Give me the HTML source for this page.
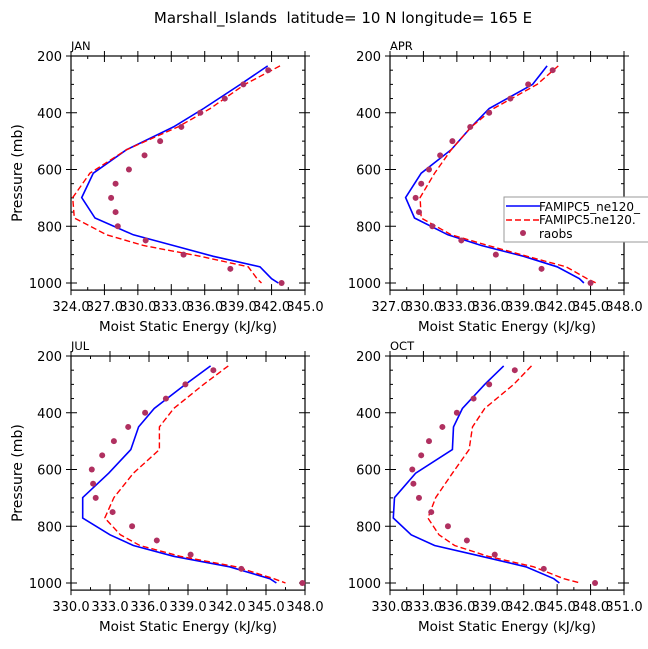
<!DOCTYPE html>
<html><head><meta charset="utf-8">
<style>
html,body{margin:0;padding:0;background:#fff;}
svg{display:block;font-family:"DejaVu Sans","Liberation Sans",sans-serif;}
</style></head>
<body>
<svg id="chart" width="648" height="649" viewBox="0 0 648 649">
<text x="343" y="23" text-anchor="middle" font-size="15" fill="#000" style="white-space:pre" xml:space="preserve">Marshall_Islands  latitude= 10 N longitude= 165 E</text>
</svg>
<script>
// shared pressure levels (mb)
const levels = [235,300,385,450,530,613,699,771,830,868,906,943,985,1000];
const obsLevels = [250,300,350,400,450,500,550,600,650,700,750,800,850,900,950,1000];
const months = ["JAN","APR","JUL","OCT"];
const xMins = [324,327,330,330];
const xMaxs = [345,348,348,351];
const yTicks = [200,400,600,800,1000];
// model 1 (blue solid)
const janBlue = [341.65,339.2,335.9,333.2,329.0,326.0,324.96,326.15,329.59,333.18,336.77,340.96,342.0,342.6];
const aprBlue = [341.1,339.8,335.9,334.3,332.5,329.8,328.4,329.2,332.2,335.2,339.0,342.0,344.0,344.4];
const julBlue = [340.74,338.8,336.4,335.2,334.6,332.9,330.9,330.9,333.0,334.8,337.9,342.2,345.3,345.8];
const octBlue = [340.2,338.5,336.5,335.7,335.6,332.3,330.4,330.3,331.9,334.0,338.2,342.2,344.7,345.2];
// model 2 (red dashed)
const janRed = [342.76,339.6,336.5,333.6,329.0,325.7,324.15,324.3,327.2,330.5,335.6,339.9,340.7,341.1];
const aprRed = [342.1,340.2,336.3,334.3,332.5,331.0,329.7,329.8,332.5,335.8,339.3,342.8,344.7,345.5];
const julRed = [342.1,340.2,337.9,336.8,336.8,334.8,333.3,332.6,333.8,335.3,338.4,342.7,345.6,346.5];
const octRed = [342.7,341.1,338.5,337.4,337.1,335.6,334.1,333.4,334.4,335.8,338.8,342.9,345.6,347.1];
// raobs
const janObs = [341.7,339.47,337.8,335.6,333.9,332.0,330.6,329.2,328.0,327.6,328.0,328.2,330.7,334.1,338.3,342.9];
const aprObs = [341.6,339.4,337.8,335.9,334.2,332.6,331.5,330.5,329.8,329.3,329.6,330.8,333.4,336.5,340.6,345.0];
const julObs = [340.95,338.8,337.3,335.7,334.4,333.3,332.4,331.6,331.7,331.9,333.2,334.7,336.6,339.2,343.1,347.8];
const octObs = [341.2,338.9,337.5,336.0,334.7,333.5,332.8,332.0,332.1,332.6,333.7,335.2,336.9,339.4,343.8,348.4];

const blues=[janBlue,aprBlue,julBlue,octBlue];
const reds=[janRed,aprRed,julRed,octRed];
const obs=[janObs,aprObs,julObs,octObs];

const NS="http://www.w3.org/2000/svg";
const svg=document.getElementById('chart');
function mk(tag,attrs,parent){const e=document.createElementNS(NS,tag);for(const k in attrs)e.setAttribute(k,attrs[k]);(parent||svg).appendChild(e);return e;}

const boxes=[{x:71,y:56},{x:390,y:56},{x:71,y:356},{x:390,y:356}];
const W=234;
months.forEach((m,i)=>{
  const bx=boxes[i].x, by=boxes[i].y;
  const yS=p=>by+(p-200)*227/800;
  const xS=v=>bx+(v-xMins[i])*W/(xMaxs[i]-xMins[i]);
  const bottom=yS(1025);
  const g=mk('g',{});
  
  
  const clipId='clip'+i;
  const cp=mk('clipPath',{id:clipId},g);
  mk('rect',{x:bx,y:by,width:W,height:bottom-by},cp);
  const ml=mk('text',{x:bx,y:by-6,'font-size':11.5},g);ml.textContent=m;
  
  
  for(let p=200;p<=1000;p+=50){
    const y=yS(p), major=p%200===0, len=major?6:3;
    mk('line',{x1:bx,x2:bx+len,y1:y,y2:y,stroke:'#000','stroke-width':1},g);
    mk('line',{x1:bx+W,x2:bx+W-len,y1:y,y2:y,stroke:'#000','stroke-width':1},g);
    if(major){mk('line',{x1:bx-5,x2:bx,y1:y,y2:y,stroke:'#000'},g);mk('line',{x1:bx+W,x2:bx+W+5,y1:y,y2:y,stroke:'#000'},g);}
  }
  yTicks.forEach(p=>{
    const t=mk('text',{x:bx-9,y:yS(p)+5,'font-size':13,'text-anchor':'end'},g);t.textContent=p;
    
    
  });
  for(let v=xMins[i];v<=xMaxs[i]+0.01;v+=1.5){
    const x=xS(v), major=Math.abs((v-xMins[i])%3)<0.01, len=major?6:3;
    mk('line',{x1:x,x2:x,y1:bottom,y2:bottom-len,stroke:'#000'},g);
    mk('line',{x1:x,x2:x,y1:by,y2:by+len,stroke:'#000'},g);
    if(major){
      mk('line',{x1:x,x2:x,y1:bottom,y2:bottom+5,stroke:'#000'},g);
      mk('line',{x1:x,x2:x,y1:by,y2:by-5,stroke:'#000'},g);
      const t=mk('text',{x:x,y:bottom+21,'font-size':13,'text-anchor':'middle'},g);t.textContent=v.toFixed(1);
      
      
    }
  }
  mk('rect',{x:bx,y:by,width:W,height:bottom-by,fill:'none',stroke:'#000','stroke-width':1.2},g);
  const xt=mk('text',{x:bx+W/2,y:bottom+41,'font-size':13.5,'text-anchor':'middle'},g);xt.textContent='Moist Static Energy (kJ/kg)';
  
  
  if(i%2===0){
    const yt=mk('text',{x:0,y:0,'font-size':14,'text-anchor':'middle',transform:`translate(22,${(by+bottom)/2}) rotate(-90)`},g);yt.textContent='Pressure (mb)';
    
    
  }
  const pg=mk('g',{'clip-path':`url(#${clipId})`},g);
  const pts=a=>a.map((v,k)=>xS(v).toFixed(1)+','+yS(levels[k]).toFixed(1)).join(' ');
  const bl=mk('polyline',{points:pts(blues[i]),fill:'none',stroke:'#0000ff','stroke-width':1.6},pg);
  
  
  const rl=mk('polyline',{points:pts(reds[i]),fill:'none',stroke:'#ff0000','stroke-width':1.4,'stroke-dasharray':'6,3'},pg);
  
  
  obs[i].forEach((v,k)=>{
    const c=mk('circle',{cx:xS(v),cy:yS(obsLevels[k]),r:3,fill:'#b03060'},g);
    
    
  });
});
const lg=mk('g',{});


mk('rect',{x:504,y:197,width:150,height:45,fill:'#fff',stroke:'#999','stroke-width':1},lg);
const e1=mk('g',{},lg);


mk('line',{x1:506,x2:540,y1:206,y2:206,stroke:'#0000ff','stroke-width':1.6},e1);
mk('text',{x:539,y:211,'font-size':12},e1).textContent='FAMIPC5_ne120_';
const e2=mk('g',{},lg);


mk('line',{x1:506,x2:540,y1:220,y2:220,stroke:'#ff0000','stroke-width':1.4,'stroke-dasharray':'6,3'},e2);
mk('text',{x:539,y:224,'font-size':12},e2).textContent='FAMIPC5.ne120.';
const e3=mk('g',{},lg);


mk('circle',{cx:523,cy:233,r:3,fill:'#b03060'},e3);
mk('text',{x:539,y:238,'font-size':12},e3).textContent='raobs';
</script>
</body></html>
